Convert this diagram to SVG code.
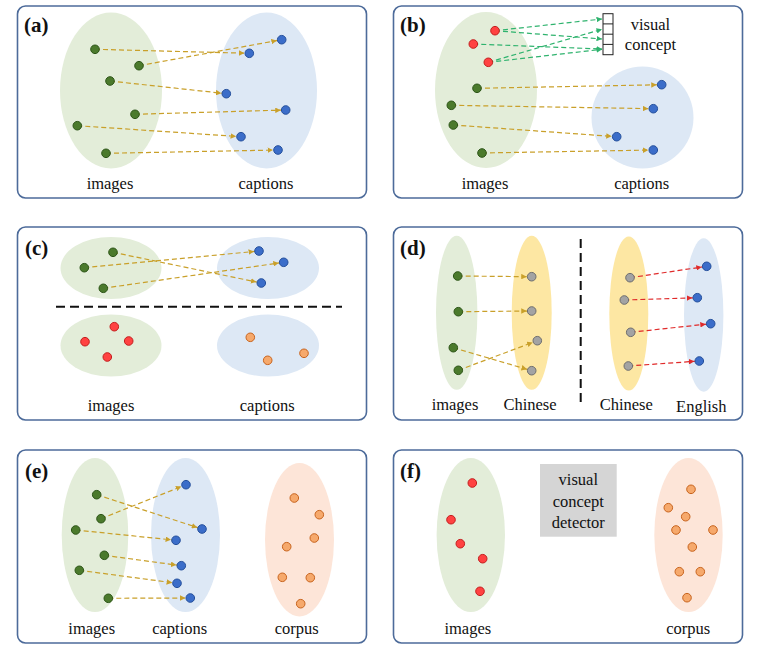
<svg xmlns="http://www.w3.org/2000/svg" width="763" height="653" viewBox="0 0 763 653" font-family="'Liberation Serif', 'DejaVu Serif', serif">
<defs>
<marker id="ag" viewBox="0 0 10 10" markerWidth="5.5" markerHeight="5.5" refX="19" refY="5" orient="auto" markerUnits="userSpaceOnUse"><path d="M0,0 L10,5 L0,10 z" fill="#c9a02a"/></marker>
<marker id="agr" viewBox="0 0 10 10" markerWidth="5.5" markerHeight="5.5" refX="10" refY="5" orient="auto" markerUnits="userSpaceOnUse"><path d="M0,0 L10,5 L0,10 z" fill="#2fb36e"/></marker>
<marker id="ar" viewBox="0 0 10 10" markerWidth="5.5" markerHeight="5.5" refX="19" refY="5" orient="auto" markerUnits="userSpaceOnUse"><path d="M0,0 L10,5 L0,10 z" fill="#e02a2a"/></marker>
</defs>
<style>
.panel{fill:#fff;stroke:#4d6b9a;stroke-width:1.6}
.eg{fill:#e3edd9}
.eb{fill:#dde8f5}
.ey{fill:#fde7a3}
.eo{fill:#fde5d8}
.g{fill:#4b7a2c;stroke:#2d5518;stroke-width:1}
.b{fill:#3b6dc9;stroke:#25509c;stroke-width:1}
.r{fill:#ff4242;stroke:#c41e1e;stroke-width:1}
.o{fill:#f6a96c;stroke:#c8641e;stroke-width:1}
.gy{fill:#a3a3a3;stroke:#6e6e6e;stroke-width:1}
.cg{stroke:#c9a02a;stroke-width:1.2;stroke-dasharray:5 3;fill:none;marker-end:url(#ag)}
.cgr{stroke:#2fb36e;stroke-width:1.2;stroke-dasharray:5 3;fill:none;marker-end:url(#agr)}
.cr{stroke:#e02a2a;stroke-width:1.2;stroke-dasharray:5 3;fill:none;marker-end:url(#ar)}
.sep{stroke:#111;stroke-width:2;stroke-dasharray:9 5;fill:none}
.t{font-family:'Liberation Serif', 'DejaVu Serif', serif;font-size:16.5px;fill:#111;text-anchor:middle}
.h{font-family:'Liberation Serif', 'DejaVu Serif', serif;font-size:21px;font-weight:bold;fill:#111}
</style>

<!-- Panel (a) -->
<g id="panel-a">
<rect class="panel" x="17.5" y="6" width="349" height="192" rx="8"/>
<text class="h" x="24" y="32">(a)</text>
<g id="a-images"><ellipse class="eg" cx="111" cy="90.5" rx="51" ry="78"/></g>
<g id="a-captions"><ellipse class="eb" cx="266.5" cy="90.5" rx="50.5" ry="78"/></g>
<g id="a-connectors">
<line class="cg" x1="95" y1="49.3" x2="249.3" y2="53.3"/>
<line class="cg" x1="139" y1="65.7" x2="281.7" y2="39.7"/>
<line class="cg" x1="110" y1="81" x2="226.3" y2="93.7"/>
<line class="cg" x1="135" y1="114.3" x2="285.7" y2="110"/>
<line class="cg" x1="77.3" y1="125.7" x2="241" y2="136.7"/>
<line class="cg" x1="106" y1="153.3" x2="278" y2="150"/>
</g>
<g id="a-points">
<circle class="g" cx="95" cy="49.3" r="4.3"/><circle class="g" cx="139" cy="65.7" r="4.3"/><circle class="g" cx="110" cy="81" r="4.3"/>
<circle class="g" cx="135" cy="114.3" r="4.3"/><circle class="g" cx="77.3" cy="125.7" r="4.3"/><circle class="g" cx="106" cy="153.3" r="4.3"/>
<circle class="b" cx="281.7" cy="39.7" r="4.3"/><circle class="b" cx="249.3" cy="53.3" r="4.3"/><circle class="b" cx="226.3" cy="93.7" r="4.3"/>
<circle class="b" cx="285.7" cy="110" r="4.3"/><circle class="b" cx="241" cy="136.7" r="4.3"/><circle class="b" cx="278" cy="150" r="4.3"/>
</g>
<text class="t" x="110" y="189">images</text>
<text class="t" x="266" y="189">captions</text>
</g>

<!-- Panel (b) -->
<g id="panel-b">
<rect class="panel" x="393.5" y="6" width="349" height="192" rx="8"/>
<text class="h" x="400" y="32">(b)</text>
<g id="b-images"><ellipse class="eg" cx="486" cy="90" rx="51" ry="78"/></g>
<g id="b-captions"><ellipse class="eb" cx="642.5" cy="117.5" rx="51" ry="51"/></g>
<g id="b-visual-concept">
<rect x="603" y="13.7" width="10" height="41" fill="#fff" stroke="#222" stroke-width="1"/>
<line x1="603" y1="23.9" x2="613" y2="23.9" stroke="#222" stroke-width="1"/>
<line x1="603" y1="34.2" x2="613" y2="34.2" stroke="#222" stroke-width="1"/>
<line x1="603" y1="44.4" x2="613" y2="44.4" stroke="#222" stroke-width="1"/>
<text class="t" x="650.5" y="30">visual</text>
<text class="t" x="650.5" y="50">concept</text>
</g>
<g id="b-connectors">
<line class="cgr" x1="495" y1="30.7" x2="602" y2="19"/>
<line class="cgr" x1="495" y1="30.7" x2="602" y2="39"/>
<line class="cgr" x1="473.3" y1="44" x2="602" y2="49"/>
<line class="cgr" x1="488.3" y1="62.3" x2="602" y2="29.3"/>
<line class="cgr" x1="488.3" y1="62.3" x2="602" y2="49.3"/>
<line class="cg" x1="477" y1="88.3" x2="661.7" y2="84.7"/>
<line class="cg" x1="451.3" y1="105.3" x2="653.3" y2="108.7"/>
<line class="cg" x1="453.3" y1="125" x2="616.7" y2="136.7"/>
<line class="cg" x1="482" y1="153" x2="653.3" y2="150"/>
</g>
<g id="b-points">
<circle class="r" cx="495" cy="30.7" r="4.3"/><circle class="r" cx="473.3" cy="44" r="4.3"/><circle class="r" cx="488.3" cy="62.3" r="4.3"/>
<circle class="g" cx="477" cy="88.3" r="4.3"/><circle class="g" cx="451.3" cy="105.3" r="4.3"/><circle class="g" cx="453.3" cy="125" r="4.3"/><circle class="g" cx="482" cy="153" r="4.3"/>
<circle class="b" cx="661.7" cy="84.7" r="4.3"/><circle class="b" cx="653.3" cy="108.7" r="4.3"/><circle class="b" cx="616.7" cy="136.7" r="4.3"/><circle class="b" cx="653.3" cy="150" r="4.3"/>
</g>
<text class="t" x="485" y="189">images</text>
<text class="t" x="641.7" y="189">captions</text>
</g>

<!-- Panel (c) -->
<g id="panel-c">
<rect class="panel" x="17.5" y="227" width="349" height="193" rx="8"/>
<text class="h" x="25" y="255">(c)</text>
<g id="c-images-top"><ellipse class="eg" cx="111" cy="268" rx="50.5" ry="31"/></g>
<g id="c-captions-top"><ellipse class="eb" cx="268" cy="268" rx="51" ry="31"/></g>
<g id="c-images-bottom"><ellipse class="eg" cx="111" cy="345.5" rx="50.5" ry="31"/></g>
<g id="c-captions-bottom"><ellipse class="eb" cx="268" cy="345.5" rx="51" ry="31"/></g>
<line class="sep" x1="56" y1="306.7" x2="342" y2="306.7"/>
<g id="c-connectors">
<line class="cg" x1="113" y1="252.3" x2="261.3" y2="283"/>
<line class="cg" x1="84.3" y1="267.7" x2="259" y2="251"/>
<line class="cg" x1="103.3" y1="288.3" x2="283.7" y2="262.3"/>
</g>
<g id="c-points">
<circle class="g" cx="113" cy="252.3" r="4.3"/><circle class="g" cx="84.3" cy="267.7" r="4.3"/><circle class="g" cx="103.3" cy="288.3" r="4.3"/>
<circle class="b" cx="259" cy="251" r="4.3"/><circle class="b" cx="283.7" cy="262.3" r="4.3"/><circle class="b" cx="261.3" cy="283" r="4.3"/>
<circle class="r" cx="114.3" cy="326.7" r="4.3"/><circle class="r" cx="85" cy="341.7" r="4.3"/><circle class="r" cx="128.7" cy="341" r="4.3"/><circle class="r" cx="107.3" cy="357" r="4.3"/>
<circle class="o" cx="250.3" cy="337.3" r="4.3"/><circle class="o" cx="267.7" cy="360.3" r="4.3"/><circle class="o" cx="304" cy="353.3" r="4.3"/>
</g>
<text class="t" x="111" y="411">images</text>
<text class="t" x="267.3" y="411">captions</text>
</g>

<!-- Panel (d) -->
<g id="panel-d">
<rect class="panel" x="393.5" y="227" width="349" height="193" rx="8"/>
<text class="h" x="400" y="255">(d)</text>
<g id="d-images"><ellipse class="eg" cx="456.7" cy="312.8" rx="20.7" ry="77"/></g>
<g id="d-chinese-1"><ellipse class="ey" cx="531.7" cy="312.8" rx="20" ry="77"/></g>
<g id="d-chinese-2"><ellipse class="ey" cx="628.8" cy="313.5" rx="19.5" ry="77"/></g>
<g id="d-english"><ellipse class="eb" cx="703.7" cy="315" rx="19.7" ry="76.7"/></g>
<line class="sep" x1="580.7" y1="239" x2="580.7" y2="405"/>
<g id="d-connectors">
<line class="cg" x1="457.7" y1="276" x2="531.7" y2="276.7"/>
<line class="cg" x1="458.3" y1="311.7" x2="531.7" y2="311"/>
<line class="cg" x1="453.3" y1="347.7" x2="531.7" y2="370.7"/>
<line class="cg" x1="458.3" y1="370.3" x2="537.3" y2="340.7"/>
<line class="cr" x1="630" y1="277.7" x2="706.7" y2="266.3"/>
<line class="cr" x1="624.3" y1="300" x2="697.3" y2="297.7"/>
<line class="cr" x1="630.7" y1="332.3" x2="710.7" y2="323.7"/>
<line class="cr" x1="628.3" y1="366" x2="699.3" y2="361"/>
</g>
<g id="d-points">
<circle class="g" cx="457.7" cy="276" r="4.3"/><circle class="g" cx="458.3" cy="311.7" r="4.3"/><circle class="g" cx="453.3" cy="347.7" r="4.3"/><circle class="g" cx="458.3" cy="370.3" r="4.3"/>
<circle class="gy" cx="531.7" cy="276.7" r="4.3"/><circle class="gy" cx="531.7" cy="311" r="4.3"/><circle class="gy" cx="537.3" cy="340.7" r="4.3"/><circle class="gy" cx="531.7" cy="370.7" r="4.3"/>
<circle class="gy" cx="630" cy="277.7" r="4.3"/><circle class="gy" cx="624.3" cy="300" r="4.3"/><circle class="gy" cx="630.7" cy="332.3" r="4.3"/><circle class="gy" cx="628.3" cy="366" r="4.3"/>
<circle class="b" cx="706.7" cy="266.3" r="4.3"/><circle class="b" cx="697.3" cy="297.7" r="4.3"/><circle class="b" cx="710.7" cy="323.7" r="4.3"/><circle class="b" cx="699.3" cy="361" r="4.3"/>
</g>
<text class="t" x="455" y="410">images</text>
<text class="t" x="530" y="410">Chinese</text>
<text class="t" x="626.3" y="410">Chinese</text>
<text class="t" x="701.3" y="412">English</text>
</g>

<!-- Panel (e) -->
<g id="panel-e">
<rect class="panel" x="17.5" y="450" width="349" height="193" rx="8"/>
<text class="h" x="25" y="478">(e)</text>
<g id="e-images"><ellipse class="eg" cx="95" cy="535" rx="33.3" ry="77"/></g>
<g id="e-captions"><ellipse class="eb" cx="185.5" cy="535" rx="34.5" ry="77"/></g>
<g id="e-corpus"><ellipse class="eo" cx="299.5" cy="539.7" rx="34.5" ry="76.7"/></g>
<g id="e-connectors">
<line class="cg" x1="96.7" y1="494.7" x2="202" y2="529"/>
<line class="cg" x1="101" y1="518.7" x2="186" y2="484.7"/>
<line class="cg" x1="75.7" y1="530" x2="176" y2="540.3"/>
<line class="cg" x1="104.3" y1="555.3" x2="181.3" y2="565.7"/>
<line class="cg" x1="79.3" y1="570.3" x2="177" y2="583.3"/>
<line class="cg" x1="108.3" y1="598.3" x2="190.3" y2="598"/>
</g>
<g id="e-points">
<circle class="g" cx="96.7" cy="494.7" r="4.3"/><circle class="g" cx="101" cy="518.7" r="4.3"/><circle class="g" cx="75.7" cy="530" r="4.3"/>
<circle class="g" cx="104.3" cy="555.3" r="4.3"/><circle class="g" cx="79.3" cy="570.3" r="4.3"/><circle class="g" cx="108.3" cy="598.3" r="4.3"/>
<circle class="b" cx="186" cy="484.7" r="4.3"/><circle class="b" cx="202" cy="529" r="4.3"/><circle class="b" cx="176" cy="540.3" r="4.3"/>
<circle class="b" cx="181.3" cy="565.7" r="4.3"/><circle class="b" cx="177" cy="583.3" r="4.3"/><circle class="b" cx="190.3" cy="598" r="4.3"/>
<circle class="o" cx="294.3" cy="498" r="4.3"/><circle class="o" cx="319.3" cy="514.7" r="4.3"/><circle class="o" cx="314.3" cy="538" r="4.3"/>
<circle class="o" cx="286.7" cy="546.7" r="4.3"/><circle class="o" cx="282.3" cy="577.3" r="4.3"/><circle class="o" cx="310.3" cy="577.7" r="4.3"/><circle class="o" cx="300.7" cy="603.7" r="4.3"/>
</g>
<text class="t" x="91.7" y="634">images</text>
<text class="t" x="179.7" y="634">captions</text>
<text class="t" x="296.7" y="634">corpus</text>
</g>

<!-- Panel (f) -->
<g id="panel-f">
<rect class="panel" x="393.5" y="450" width="349" height="193" rx="8"/>
<text class="h" x="400" y="478">(f)</text>
<g id="f-images"><ellipse class="eg" cx="470.8" cy="535" rx="34.2" ry="77"/></g>
<g id="f-corpus"><ellipse class="eo" cx="688.5" cy="535" rx="34.2" ry="77"/></g>
<g id="f-detector">
<rect x="540" y="464" width="76.7" height="72.7" fill="#d5d5d5"/>
<text class="t" x="578.3" y="485.3">visual</text>
<text class="t" x="578.3" y="507">concept</text>
<text class="t" x="578.3" y="527.5">detector</text>
</g>
<g id="f-points">
<circle class="r" cx="472.3" cy="483" r="4.3"/><circle class="r" cx="451" cy="519.7" r="4.3"/><circle class="r" cx="460.3" cy="543.7" r="4.3"/><circle class="r" cx="482.7" cy="558.7" r="4.3"/><circle class="r" cx="480" cy="591.3" r="4.3"/>
<circle class="o" cx="691" cy="489.3" r="4.3"/><circle class="o" cx="668.3" cy="507.7" r="4.3"/><circle class="o" cx="685.7" cy="516.7" r="4.3"/>
<circle class="o" cx="676" cy="530" r="4.3"/><circle class="o" cx="713" cy="530" r="4.3"/><circle class="o" cx="692.3" cy="547" r="4.3"/>
<circle class="o" cx="679.3" cy="571.7" r="4.3"/><circle class="o" cx="700.3" cy="571.7" r="4.3"/><circle class="o" cx="687" cy="597.7" r="4.3"/>
</g>
<text class="t" x="467.8" y="634">images</text>
<text class="t" x="688.3" y="634">corpus</text>
</g>
</svg>
